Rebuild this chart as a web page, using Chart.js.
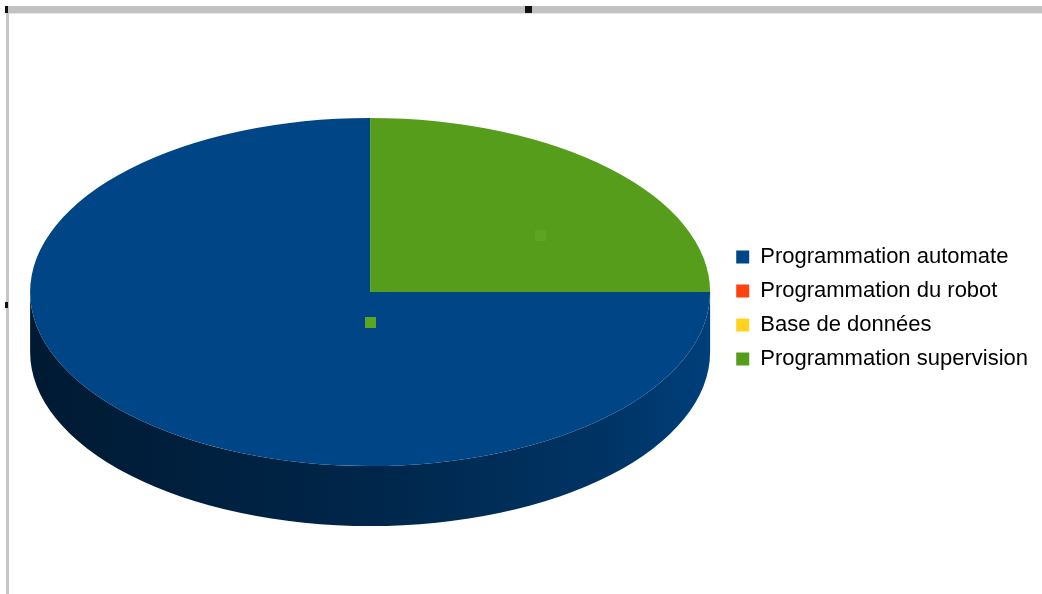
<!DOCTYPE html>
<html>
<head>
<meta charset="utf-8">
<script src="https://cdn.jsdelivr.net/npm/chart.js@4.4.1/dist/chart.umd.min.js"></script>
<style>
  html, body { margin: 0; padding: 0; background: #fff; }
  #wrap { position: relative; width: 1042px; height: 594px; overflow: hidden; }
  #wrap canvas { position: absolute; left: 0; top: 0; }
  .frame-top  { position: absolute; left: 6px; top: 6px; width: 1036px; height: 7px; background: #c2c2c2; border-bottom: 1px solid #e4e4e4; }
  .frame-left { position: absolute; left: 6px; top: 6px; width: 3px; height: 588px; background: #c6c6c6; }
  .handle     { position: absolute; background: #111; }
</style>
</head>
<body>
<div id="wrap">
  <canvas id="camembert" width="1042" height="594"></canvas>
  <div class="frame-top"></div>
  <div class="frame-left"></div>
  <div class="handle" style="left:5px;top:6px;width:3px;height:7px"></div>
  <div class="handle" style="left:525px;top:6px;width:7px;height:7px"></div>
  <div class="handle" style="left:5px;top:302px;width:3px;height:6px"></div>
</div>
<script>
// ── Données
const categories = ['Programmation automate', 'Programmation du robot', 'Base de données', 'Programmation supervision'];
const parts      = [75, 0, 0, 25];
const couleurs   = ['#004586', '#ff420e', '#ffd320', '#579d1c'];

// ── Projection "3D" du camembert (ellipse + épaisseur)
const PIE = { rx: 340, ry: 174, depth: 60, lift: 16 };
const KEY_COLOR = '#5ca421';

function shade(hex, k) {
  const n = parseInt(hex.slice(1), 16);
  const r = Math.round(((n >> 16) & 255) * k), g = Math.round(((n >> 8) & 255) * k), b = Math.round((n & 255) * k);
  return `rgb(${r},${g},${b})`;
}

function geo(chart) {
  const a = chart.getDatasetMeta(0).data[0];
  return { ox: a.x, oy: a.y, cx: a.x, cy: a.y - PIE.lift, r: a.outerRadius };
}

// portions de l'arc visibles sur la face avant (0..π)
function frontRanges(s, e) {
  const out = [];
  for (let k = -1; k <= 1; k++) {
    const a0 = Math.max(s, 2 * Math.PI * k), a1 = Math.min(e, 2 * Math.PI * k + Math.PI);
    if (a1 - a0 > 1e-4) out.push([a0, a1]);
  }
  return out;
}

const pie3d = {
  id: 'pie3d',
  beforeDatasetsDraw(chart) {
    const ctx = chart.ctx, g = geo(chart);
    const meta = chart.getDatasetMeta(0);

    // flanc du camembert
    meta.data.forEach((arc, i) => {
      if (!arc.circumference) return;
      frontRanges(arc.startAngle, arc.endAngle).forEach(([a0, a1]) => {
        const base = couleurs[i];
        const grad = ctx.createLinearGradient(g.cx - PIE.rx, 0, g.cx + PIE.rx, 0);
        grad.addColorStop(0,    shade(base, 0.38));
        grad.addColorStop(0.5,  shade(base, 0.55));
        grad.addColorStop(0.85, shade(base, 0.75));
        grad.addColorStop(1,    shade(base, 0.92));
        ctx.beginPath();
        ctx.ellipse(g.cx, g.cy, PIE.rx, PIE.ry, 0, a0, a1);
        ctx.ellipse(g.cx, g.cy + PIE.depth, PIE.rx, PIE.ry, 0, a1, a0, true);
        ctx.closePath();
        ctx.fillStyle = grad;
        ctx.fill();
      });
    });

    // face supérieure : on écrase le cercle de Chart.js en ellipse
    ctx.save();
    ctx.translate(g.cx, g.cy);
    ctx.scale(PIE.rx / g.r, PIE.ry / g.r);
    ctx.translate(-g.ox, -g.oy);
  },
  afterDatasetsDraw(chart) {
    const ctx = chart.ctx;
    ctx.restore();
    const g = geo(chart);

    // petites clés d'étiquette au centre de la boîte englobante de chaque part
    chart.getDatasetMeta(0).data.forEach(arc => {
      if (!arc.circumference) return;
      const angles = [arc.startAngle, arc.endAngle];
      for (let q = Math.ceil(arc.startAngle / (Math.PI / 2)); q * Math.PI / 2 < arc.endAngle; q++) angles.push(q * Math.PI / 2);
      const xs = [g.cx], ys = [g.cy, g.cy + PIE.depth];
      angles.forEach(t => {
        const x = g.cx + PIE.rx * Math.cos(t), y = g.cy + PIE.ry * Math.sin(t);
        xs.push(x); ys.push(y, y + PIE.depth);
      });
      const mx = (Math.min(...xs) + Math.max(...xs)) / 2;
      const my = (Math.min(...ys) + Math.max(...ys)) / 2;
      ctx.fillStyle = KEY_COLOR;
      ctx.fillRect(Math.round(mx - 5), Math.round(my - 5), 11, 11);
    });
  }
};

new Chart(document.getElementById('camembert'), {
  type: 'pie',
  data: {
    labels: categories,
    datasets: [{
      data: parts,
      backgroundColor: couleurs,
      borderWidth: 0,
      hoverOffset: 0,
      clip: false
    }]
  },
  options: {
    responsive: false,
    animation: false,
    events: [],
    rotation: 90,
    layout: { padding: { left: 16, right: 4, top: 22, bottom: 0 } },
    plugins: {
      tooltip: { enabled: false },
      legend: {
        position: 'right',
        labels: {
          boxWidth: 13, boxHeight: 13, padding: 12, color: '#000',
          font: { family: '"Liberation Sans", Arial, sans-serif', size: 22 }
        }
      }
    }
  },
  plugins: [pie3d]
});
</script>
</body>
</html>
